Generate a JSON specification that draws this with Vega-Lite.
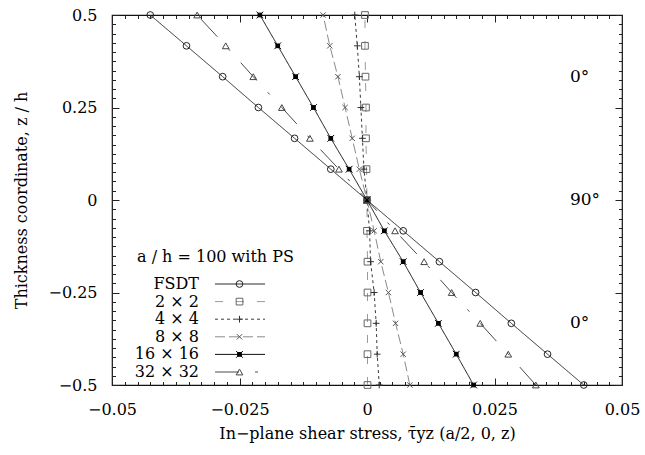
{
  "$schema": "https://vega.github.io/schema/vega-lite/v6.json",
  "autosize": {"type": "none"},
  "padding": {"left": 112, "top": 15, "right": 23, "bottom": 70},
  "width": 510,
  "height": 370,
  "background": "white",
  "config": {
    "view": {"stroke": "#111", "strokeWidth": 1.2},
    "font": "DejaVu Serif",
    "axis": {
      "domain": false,
      "ticks": false,
      "grid": true,
      "gridColor": "#222",
      "gridOpacity": 1,
      "gridWidth": 1,
      "labelFont": "DejaVu Serif",
      "labelFontSize": 16,
      "labelColor": "#000",
      "labelFlush": false,
      "labelOverlap": false,
      "titleFont": "DejaVu Serif",
      "titleFontSize": 16,
      "titleFontWeight": "normal",
      "titleColor": "#000"
    }
  },
  "datasets": {
    "profiles": [
      {"series": "FSDT", "mesh": 1, "z": 0.5, "tau": -0.0425},
      {"series": "FSDT", "mesh": 1, "z": 0.4167, "tau": -0.0354},
      {"series": "FSDT", "mesh": 1, "z": 0.3333, "tau": -0.0283},
      {"series": "FSDT", "mesh": 1, "z": 0.25, "tau": -0.0213},
      {"series": "FSDT", "mesh": 1, "z": 0.1667, "tau": -0.0142},
      {"series": "FSDT", "mesh": 1, "z": 0.0833, "tau": -0.0071},
      {"series": "FSDT", "mesh": 1, "z": 0, "tau": 0},
      {"series": "FSDT", "mesh": 1, "z": -0.0833, "tau": 0.0071},
      {"series": "FSDT", "mesh": 1, "z": -0.1667, "tau": 0.0142},
      {"series": "FSDT", "mesh": 1, "z": -0.25, "tau": 0.0213},
      {"series": "FSDT", "mesh": 1, "z": -0.3333, "tau": 0.0283},
      {"series": "FSDT", "mesh": 1, "z": -0.4167, "tau": 0.0354},
      {"series": "FSDT", "mesh": 1, "z": -0.5, "tau": 0.0425},

      {"series": "2 × 2", "mesh": 2, "z": 0.5, "tau": -0.0004},
      {"series": "2 × 2", "mesh": 2, "z": 0.4167, "tau": -0.0004},
      {"series": "2 × 2", "mesh": 2, "z": 0.3333, "tau": -0.0003},
      {"series": "2 × 2", "mesh": 2, "z": 0.25, "tau": -0.0002},
      {"series": "2 × 2", "mesh": 2, "z": 0.1667, "tau": -0.0002},
      {"series": "2 × 2", "mesh": 2, "z": 0.0833, "tau": -0.0001},
      {"series": "2 × 2", "mesh": 2, "z": 0, "tau": 0},
      {"series": "2 × 2", "mesh": 2, "z": -0.0833, "tau": 0},
      {"series": "2 × 2", "mesh": 2, "z": -0.1667, "tau": 0.0001},
      {"series": "2 × 2", "mesh": 2, "z": -0.25, "tau": 0.0001},
      {"series": "2 × 2", "mesh": 2, "z": -0.3333, "tau": 0.0001},
      {"series": "2 × 2", "mesh": 2, "z": -0.4167, "tau": 0.0001},
      {"series": "2 × 2", "mesh": 2, "z": -0.5, "tau": 0.0001},

      {"series": "4 × 4", "mesh": 3, "z": 0.5, "tau": -0.0024},
      {"series": "4 × 4", "mesh": 3, "z": 0.4167, "tau": -0.0019},
      {"series": "4 × 4", "mesh": 3, "z": 0.3333, "tau": -0.0015},
      {"series": "4 × 4", "mesh": 3, "z": 0.25, "tau": -0.0012},
      {"series": "4 × 4", "mesh": 3, "z": 0.1667, "tau": -0.0009},
      {"series": "4 × 4", "mesh": 3, "z": 0.0833, "tau": -0.0006},
      {"series": "4 × 4", "mesh": 3, "z": 0, "tau": 0},
      {"series": "4 × 4", "mesh": 3, "z": -0.0833, "tau": 0.0005},
      {"series": "4 × 4", "mesh": 3, "z": -0.1667, "tau": 0.0007},
      {"series": "4 × 4", "mesh": 3, "z": -0.25, "tau": 0.0014},
      {"series": "4 × 4", "mesh": 3, "z": -0.3333, "tau": 0.0018},
      {"series": "4 × 4", "mesh": 3, "z": -0.4167, "tau": 0.002},
      {"series": "4 × 4", "mesh": 3, "z": -0.5, "tau": 0.0024},

      {"series": "8 × 8", "mesh": 4, "z": 0.5, "tau": -0.0086},
      {"series": "8 × 8", "mesh": 4, "z": 0.4167, "tau": -0.0073},
      {"series": "8 × 8", "mesh": 4, "z": 0.3333, "tau": -0.0057},
      {"series": "8 × 8", "mesh": 4, "z": 0.25, "tau": -0.0043},
      {"series": "8 × 8", "mesh": 4, "z": 0.1667, "tau": -0.0029},
      {"series": "8 × 8", "mesh": 4, "z": 0.0833, "tau": -0.0015},
      {"series": "8 × 8", "mesh": 4, "z": 0, "tau": 0},
      {"series": "8 × 8", "mesh": 4, "z": -0.0833, "tau": 0.0014},
      {"series": "8 × 8", "mesh": 4, "z": -0.1667, "tau": 0.0027},
      {"series": "8 × 8", "mesh": 4, "z": -0.25, "tau": 0.0042},
      {"series": "8 × 8", "mesh": 4, "z": -0.3333, "tau": 0.0056},
      {"series": "8 × 8", "mesh": 4, "z": -0.4167, "tau": 0.0071},
      {"series": "8 × 8", "mesh": 4, "z": -0.5, "tau": 0.0084},

      {"series": "16 × 16", "mesh": 5, "z": 0.5, "tau": -0.021},
      {"series": "16 × 16", "mesh": 5, "z": 0.4167, "tau": -0.0175},
      {"series": "16 × 16", "mesh": 5, "z": 0.3333, "tau": -0.014},
      {"series": "16 × 16", "mesh": 5, "z": 0.25, "tau": -0.0105},
      {"series": "16 × 16", "mesh": 5, "z": 0.1667, "tau": -0.0071},
      {"series": "16 × 16", "mesh": 5, "z": 0.0833, "tau": -0.0035},
      {"series": "16 × 16", "mesh": 5, "z": 0, "tau": 0},
      {"series": "16 × 16", "mesh": 5, "z": -0.0833, "tau": 0.0034},
      {"series": "16 × 16", "mesh": 5, "z": -0.1667, "tau": 0.0071},
      {"series": "16 × 16", "mesh": 5, "z": -0.25, "tau": 0.0105},
      {"series": "16 × 16", "mesh": 5, "z": -0.3333, "tau": 0.014},
      {"series": "16 × 16", "mesh": 5, "z": -0.4167, "tau": 0.0175},
      {"series": "16 × 16", "mesh": 5, "z": -0.5, "tau": 0.0209},

      {"series": "32 × 32", "mesh": 6, "z": 0.5, "tau": -0.0333},
      {"series": "32 × 32", "mesh": 6, "z": 0.4167, "tau": -0.0277},
      {"series": "32 × 32", "mesh": 6, "z": 0.3333, "tau": -0.0223},
      {"series": "32 × 32", "mesh": 6, "z": 0.25, "tau": -0.0167},
      {"series": "32 × 32", "mesh": 6, "z": 0.1667, "tau": -0.0112},
      {"series": "32 × 32", "mesh": 6, "z": 0.0833, "tau": -0.0055},
      {"series": "32 × 32", "mesh": 6, "z": 0, "tau": 0},
      {"series": "32 × 32", "mesh": 6, "z": -0.0833, "tau": 0.0055},
      {"series": "32 × 32", "mesh": 6, "z": -0.1667, "tau": 0.0112},
      {"series": "32 × 32", "mesh": 6, "z": -0.25, "tau": 0.0166},
      {"series": "32 × 32", "mesh": 6, "z": -0.3333, "tau": 0.0222},
      {"series": "32 × 32", "mesh": 6, "z": -0.4167, "tau": 0.0277},
      {"series": "32 × 32", "mesh": 6, "z": -0.5, "tau": 0.0331}
    ],
    "plies": [
      {"ply": "0°", "z": 0.333},
      {"ply": "90°", "z": 0},
      {"ply": "0°", "z": -0.333}
    ]
  },
  "resolve": {"axis": {"x": "independent", "y": "independent"}},
  "layer": [
    {
      "data": {"name": "profiles"},
      "mark": {"type": "line", "clip": true},
      "encoding": {
        "x": {
          "field": "tau", "type": "quantitative",
          "scale": {"domain": [-0.05, 0.05], "nice": false, "zero": false},
          "axis": {
            "orient": "bottom",
            "values": [-0.05, -0.0475, -0.045, -0.0425, -0.04, -0.0375, -0.035, -0.0325, -0.03, -0.0275, -0.025, -0.0225, -0.02, -0.0175, -0.015, -0.0125, -0.01, -0.0075, -0.005, -0.0025, 0, 0.0025, 0.005, 0.0075, 0.01, 0.0125, 0.015, 0.0175, 0.02, 0.0225, 0.025, 0.0275, 0.03, 0.0325, 0.035, 0.0375, 0.04, 0.0425, 0.045, 0.0475, 0.05],
            "labelExpr": "abs(datum.value*40-round(datum.value*40)) < 0.000001 ? format(datum.value, '~g') : ''",
            "gridDash": {"condition": {"test": "abs(datum.value*40-round(datum.value*40)) < 0.000001", "value": [7, 356, 7]}, "value": [3.5, 363, 3.5]},
            "labelPadding": 16,
            "title": "In−plane shear stress, τ̄yz (a/2, 0, z)",
            "titlePadding": 8
          }
        },
        "y": {
          "field": "z", "type": "quantitative",
          "scale": {"domain": [-0.5, 0.5], "nice": false, "zero": false},
          "axis": {
            "orient": "left",
            "values": [-0.5, -0.475, -0.45, -0.425, -0.4, -0.375, -0.35, -0.325, -0.3, -0.275, -0.25, -0.225, -0.2, -0.175, -0.15, -0.125, -0.1, -0.075, -0.05, -0.025, 0, 0.025, 0.05, 0.075, 0.1, 0.125, 0.15, 0.175, 0.2, 0.225, 0.25, 0.275, 0.3, 0.325, 0.35, 0.375, 0.4, 0.425, 0.45, 0.475, 0.5],
            "labelExpr": "abs(datum.value*4-round(datum.value*4)) < 0.000001 ? format(datum.value, '~g') : ''",
            "gridDash": {"condition": {"test": "abs(datum.value*4-round(datum.value*4)) < 0.000001", "value": [7, 496, 7]}, "value": [3.5, 503, 3.5]},
            "labelPadding": 15,
            "title": "Thickness coordinate, z / h",
            "titlePadding": 18
          }
        },
        "order": {"field": "z", "type": "quantitative"},
        "color": {
          "field": "series", "type": "ordinal",
          "scale": {
            "domain": ["FSDT", "2 × 2", "4 × 4", "8 × 8", "16 × 16", "32 × 32"],
            "range": ["#2a2a2a", "#9a9a9a", "#3a3a3a", "#8a8a8a", "#111111", "#4a4a4a"]
          },
          "legend": {
            "orient": "none",
            "legendX": 25,
            "legendY": 234,
            "padding": 0,
            "title": "a / h = 100 with PS",
            "titleFont": "DejaVu Serif",
            "titleFontSize": 16,
            "titleFontWeight": "normal",
            "titleColor": "#000",
            "titlePadding": 11,
            "symbolType": "M-10,0H10",
            "symbolSize": 25,
            "symbolOffset": 95,
            "labelAlign": "right",
            "labelOffset": -49,
            "labelFont": "DejaVu Serif",
            "labelFontSize": 16,
            "labelColor": "#000",
            "labelLimit": 0,
            "rowPadding": 1.6
          }
        },
        "strokeDash": {
          "field": "series", "type": "ordinal",
          "scale": {
            "domain": ["FSDT", "2 × 2", "4 × 4", "8 × 8", "16 × 16", "32 × 32"],
            "range": [[1, 0], [8, 13], [3, 3], [10, 4], [1, 0], [24, 16, 3, 16]]
          }
        },
        "strokeWidth": {
          "field": "series", "type": "ordinal",
          "scale": {
            "domain": ["FSDT", "2 × 2", "4 × 4", "8 × 8", "16 × 16", "32 × 32"],
            "range": [1, 1, 1, 1, 1.8, 1]
          }
        }
      }
    },
    {
      "data": {"name": "profiles"},
      "mark": {"type": "point", "filled": true, "opacity": 1, "size": 45, "strokeWidth": 1, "clip": false},
      "encoding": {
        "x": {"field": "tau", "type": "quantitative", "axis": null},
        "y": {"field": "z", "type": "quantitative", "axis": null},
        "shape": {
          "field": "mesh", "type": "ordinal",
          "scale": {
            "range": ["circle", "square", "M-1,0H1M0,-1V1", "M-0.8,-0.8L0.8,0.8M0.8,-0.8L-0.8,0.8", "M-0.55,-0.55H0.55V0.55H-0.55ZM-1,-1L1,1M1,-1L-1,1", "triangle-up"]
          },
          "legend": {
            "orient": "none",
            "legendX": 25,
            "legendY": 234,
            "padding": 0,
            "title": "a / h = 100 with PS",
            "titleFont": "DejaVu Serif",
            "titleFontSize": 16,
            "titleFontWeight": "normal",
            "titleColor": "transparent",
            "titlePadding": 11,
            "symbolSize": 45,
            "symbolStrokeWidth": 1,
            "symbolOffset": 94.5,
            "labelFont": "DejaVu Serif",
            "labelFontSize": 16,
            "labelColor": "transparent",
            "rowPadding": 1.6
          }
        },
        "fill": {
          "field": "mesh", "type": "ordinal",
          "scale": {"range": ["transparent", "transparent", "transparent", "transparent", "#000000", "transparent"]}
        },
        "stroke": {
          "field": "mesh", "type": "ordinal",
          "scale": {"range": ["#222222", "#666666", "#333333", "#555555", "#000000", "#444444"]}
        }
      }
    },
    {
      "data": {"name": "plies"},
      "mark": {"type": "text", "align": "left", "baseline": "middle", "font": "DejaVu Serif", "fontSize": 17, "color": "#000"},
      "encoding": {
        "x": {"datum": 0.0398, "type": "quantitative", "axis": null},
        "y": {"field": "z", "type": "quantitative", "axis": null},
        "text": {"field": "ply"}
      }
    }
  ]
}
